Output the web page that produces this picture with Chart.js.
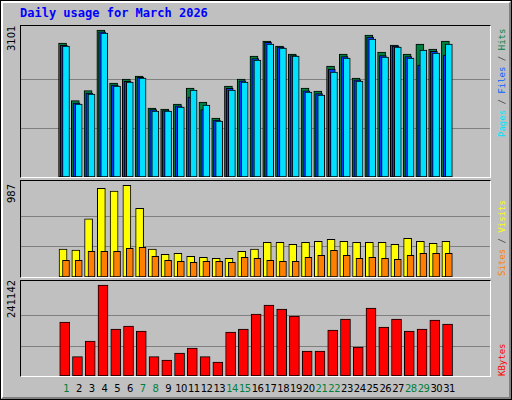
<!DOCTYPE html>
<html><head><meta charset="utf-8">
<script src="https://cdn.jsdelivr.net/npm/chart.js@4"></script>
<style>
html,body{margin:0;padding:0;background:#c0c0c0;}
#frame{position:absolute;left:0;top:0;width:510px;height:398px;border:1px solid #000;background:#c0c0c0;}
#inner{position:absolute;left:0;top:0;width:506px;height:394px;border-left:2px solid #fff;border-top:2px solid #fff;border-right:2px solid #808080;border-bottom:2px solid #808080;}
.panel{position:absolute;left:20px;width:469px;border-top:1px solid #000;border-left:1px solid #000;border-right:1px solid #fff;border-bottom:1px solid #fff;}
.panel canvas{position:absolute;left:0;top:0;}
.t{position:absolute;font-family:"DejaVu Sans Mono",monospace;white-space:nowrap;}
.rot{transform-origin:0 0;transform:rotate(-90deg);font-size:9px;line-height:10px;}
.tick{position:absolute;font-family:"DejaVu Sans",sans-serif;font-size:10px;line-height:11px;white-space:nowrap;transform-origin:0 0;transform:rotate(-90deg);color:#000;}
</style></head><body>
<div id="frame"><div id="inner"></div></div>
<div class="t" style="left:20px;top:6px;font-size:12px;font-weight:bold;color:#0000ff;">Daily usage for March 2026</div>
<div class="panel" style="top:25px;height:151px;"><canvas id="c1" width="469" height="151"></canvas></div>
<div class="panel" style="top:180px;height:96px;"><canvas id="c2" width="469" height="96"></canvas></div>
<div class="panel" style="top:280px;height:95px;"><canvas id="c3" width="469" height="95"></canvas></div>
<div class="tick" style="left:6px;top:51px;">3101</div>
<div class="tick" style="left:6px;top:203px;">987</div>
<div class="tick" style="left:6px;top:318px;">241142</div>
<div class="t rot" style="left:497px;top:137px;"><span style="color:#00e0ff">Pages</span><span style="color:#404040"> / </span><span style="color:#0060ff">Files</span><span style="color:#404040"> / </span><span style="color:#008040">Hits</span></div>
<div class="t rot" style="left:497px;top:276px;"><span style="color:#ff8000">Sites</span><span style="color:#404040"> / </span><span style="color:#ffff00">Visits</span></div>
<div class="t rot" style="left:497px;top:376px;color:#ff0000;">KBytes</div>
<div id="xl"></div>
<script>
const days = Array.from({length:31},(_,i)=>i+1);
const weekend = [1,7,8,14,15,21,22,28,29];
const hits = [2827,1610,1821,3101,1983,2067,2131,1456,1434,1540,1877,1582,1245,1920,2067,2553,2869,2764,2595,1877,1814,2342,2595,2089,2996,2637,2785,2595,2806,2700,2869];
const files = [2780,1560,1770,3060,1940,2020,2100,1420,1400,1500,1687,1420,1200,1870,2030,2500,2840,2740,2560,1820,1760,2278,2540,2050,2953,2560,2760,2540,2362,2650,2573];
const pages = [2763,1540,1751,3037,1919,2004,2088,1392,1392,1476,1835,1519,1181,1835,2004,2468,2805,2721,2552,1793,1729,2214,2510,2025,2911,2531,2742,2510,2679,2615,2805];
const visits = [301,291,625,955,926,987,739,301,244,255,223,212,201,201,276,301,373,373,352,373,384,406,384,373,373,373,352,416,384,363,384];
const sites = [180,180,276,276,276,309,320,223,180,169,158,169,169,158,212,201,180,169,169,212,233,287,233,201,212,201,190,233,255,255,255];
const kbytes = [143046,51214,92715,241142,124503,132450,119205,51214,42384,60927,74172,51214,37086,116556,124503,164238,188079,177483,158940,66225,66225,121854,150993,76821,180132,129801,150993,119205,124503,148344,137748];

const XMIN=0.2, XMAX=31.7;
function ds(vals, off, color, w){
  return {data: vals.map((v,i)=>({x:days[i]+off,y:v})), backgroundColor:color, borderColor:'#000', borderWidth:1, borderSkipped:false, barThickness:w, grouped:false};
}
const gridPlugin = {id:'g', beforeDatasetsDraw(chart, a, opts){
  const c=chart.ctx, y=chart.scales.y; c.save(); c.strokeStyle='#808080'; c.lineWidth=1;
  for(const v of opts.lines){const p=Math.round(y.getPixelForValue(v))+0.5; c.beginPath(); c.moveTo(0,p); c.lineTo(chart.width,p); c.stroke();}
  c.restore();
}};
function make(id, datasets, ymax, top){
  return new Chart(document.getElementById(id), {type:'bar', data:{datasets},
    options:{responsive:false, animation:false, devicePixelRatio:1, layout:{padding:0},
      plugins:{legend:{display:false}, tooltip:{enabled:false}, g:{lines:[top/3, 2*top/3]}},
      scales:{x:{type:'linear',min:XMIN,max:XMAX,display:false}, y:{min:0,max:ymax,display:false}}},
    plugins:[gridPlugin]});
}
make('c1',[ds(pages,0.1,'#00e0ff',7), ds(files,-0.07,'#0040ff',7), ds(hits,-0.17,'#008040',8)], 3101*151/147, 3101);
make('c2',[ds(sites,0.1,'#ff8000',7), ds(visits,-0.13,'#ffff00',8)], 987*96/91.7, 987);
const ch3 = make('c3',[ds(kbytes,0,'#ff0000',10)], 241142*95/91, 241142);
const xl=document.getElementById('xl');
days.forEach(d=>{
  const s=document.createElement('div'); s.textContent=d;
  s.style.cssText='position:absolute;font-family:"DejaVu Sans",sans-serif;font-size:10px;letter-spacing:-0.5px;top:383px;width:20px;text-align:center;white-space:nowrap;';
  s.style.color=weekend.includes(d)?'#008040':'#000';
  s.style.left=(21+ch3.scales.x.getPixelForValue(d)+1.5-10)+'px';
  xl.appendChild(s);
});
</script>
</body></html>
